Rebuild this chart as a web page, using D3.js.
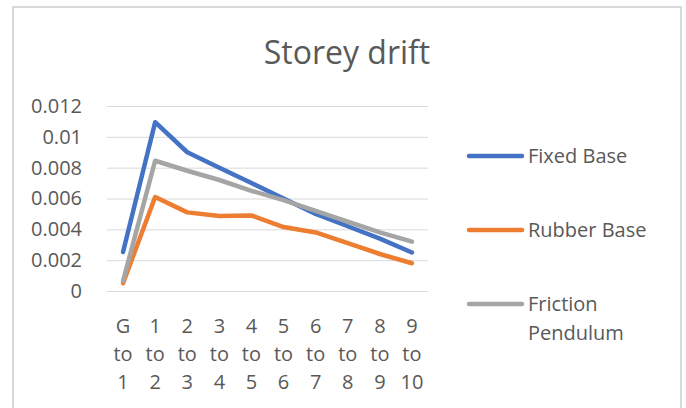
<!DOCTYPE html>
<html>
<head>
<meta charset="utf-8">
<script src="https://cdn.jsdelivr.net/npm/d3@7"></script>
<style>
  body { margin: 0; background: #fff; }
  text { font-family: "Open Sans", "Noto Sans", sans-serif; fill: #595959; }
</style>
</head>
<body>
<svg id="chart" width="686" height="408"></svg>
<script>
var categories = [["G", "to", "1"], ["1", "to", "2"], ["2", "to", "3"], ["3", "to", "4"], ["4", "to", "5"],
                  ["5", "to", "6"], ["6", "to", "7"], ["7", "to", "8"], ["8", "to", "9"], ["9", "to", "10"]];
var fixedBase = [0.00253, 0.01095, 0.0090, 0.0080, 0.0070, 0.0060, 0.0050, 0.0042, 0.0034, 0.0025];
var rubberBase = [0.0005, 0.0061, 0.0051, 0.00486, 0.0049, 0.00415, 0.0038, 0.0031, 0.0024, 0.0018];
var frictionPendulum = [0.00065, 0.00845, 0.0078, 0.0072, 0.0065, 0.0059, 0.0052, 0.0045, 0.0038, 0.0032];
var yTicks = [0, 0.002, 0.004, 0.006, 0.008, 0.01, 0.012];
var seriesNames = [["Fixed Base"], ["Rubber Base"], ["Friction", "Pendulum"]];
var seriesColors = ["#4472C4", "#ED7D31", "#A5A5A5"];

var allSeries = [fixedBase, rubberBase, frictionPendulum];

var svg = d3.select('#chart');

// outer chart border
svg.append('rect')
  .attr('x', 13).attr('y', 7)
  .attr('width', 668).attr('height', 420)
  .attr('fill', 'none')
  .attr('stroke', '#d9d9d9')
  .attr('stroke-width', 2);

svg.append('text')
  .attr('x', 347).attr('y', 64)
  .attr('text-anchor', 'middle')
  .attr('font-size', 32)
  .text('Storey drift');

var x = d3.scaleBand().domain(d3.range(categories.length)).range([107, 428]);
var y = d3.scaleLinear().domain([0, 0.012]).range([291, 106]);

var yAxis = d3.axisLeft(y).tickValues(yTicks).tickSize(-(428 - 107)).tickPadding(25)
  .tickFormat(function (d) { return d === 0 ? '0' : String(+d.toFixed(3)); });

var gy = svg.append('g').attr('transform', 'translate(107,0)').call(yAxis);
gy.select('.domain').remove();
gy.selectAll('.tick line').attr('stroke', '#d9d9d9').attr('stroke-width', 1);
gy.selectAll('.tick text').attr('font-size', 20).attr('fill', '#595959');

// category labels, three lines each
var xl = svg.append('g');
categories.forEach(function (c, i) {
  var t = xl.append('text')
    .attr('text-anchor', 'middle')
    .attr('font-size', 20)
    .attr('x', x(i) + x.bandwidth() / 2);
  c.forEach(function (s, j) {
    t.append('tspan').attr('x', x(i) + x.bandwidth() / 2).attr('y', 333 + j * 28).text(s);
  });
});

var line = d3.line()
  .x(function (d, i) { return x(i) + x.bandwidth() / 2; })
  .y(function (d) { return y(d); });

allSeries.forEach(function (s, k) {
  svg.append('path')
    .datum(s)
    .attr('d', line)
    .attr('fill', 'none')
    .attr('stroke', seriesColors[k])
    .attr('stroke-width', 4.5)
    .attr('stroke-linecap', 'round')
    .attr('stroke-linejoin', 'round');
});

// legend
var legendY = [156, 230, 304];
seriesNames.forEach(function (n, k) {
  var g = svg.append('g').attr('transform', 'translate(0,' + legendY[k] + ')');
  g.append('line')
    .attr('x1', 469).attr('x2', 522)
    .attr('stroke', seriesColors[k])
    .attr('stroke-width', 4.5)
    .attr('stroke-linecap', 'round');
  n.forEach(function (s, j) {
    g.append('text')
      .attr('x', 528).attr('y', 7 + j * 29)
      .attr('font-size', 20)
      .text(s);
  });
});
</script>
</body>
</html>
